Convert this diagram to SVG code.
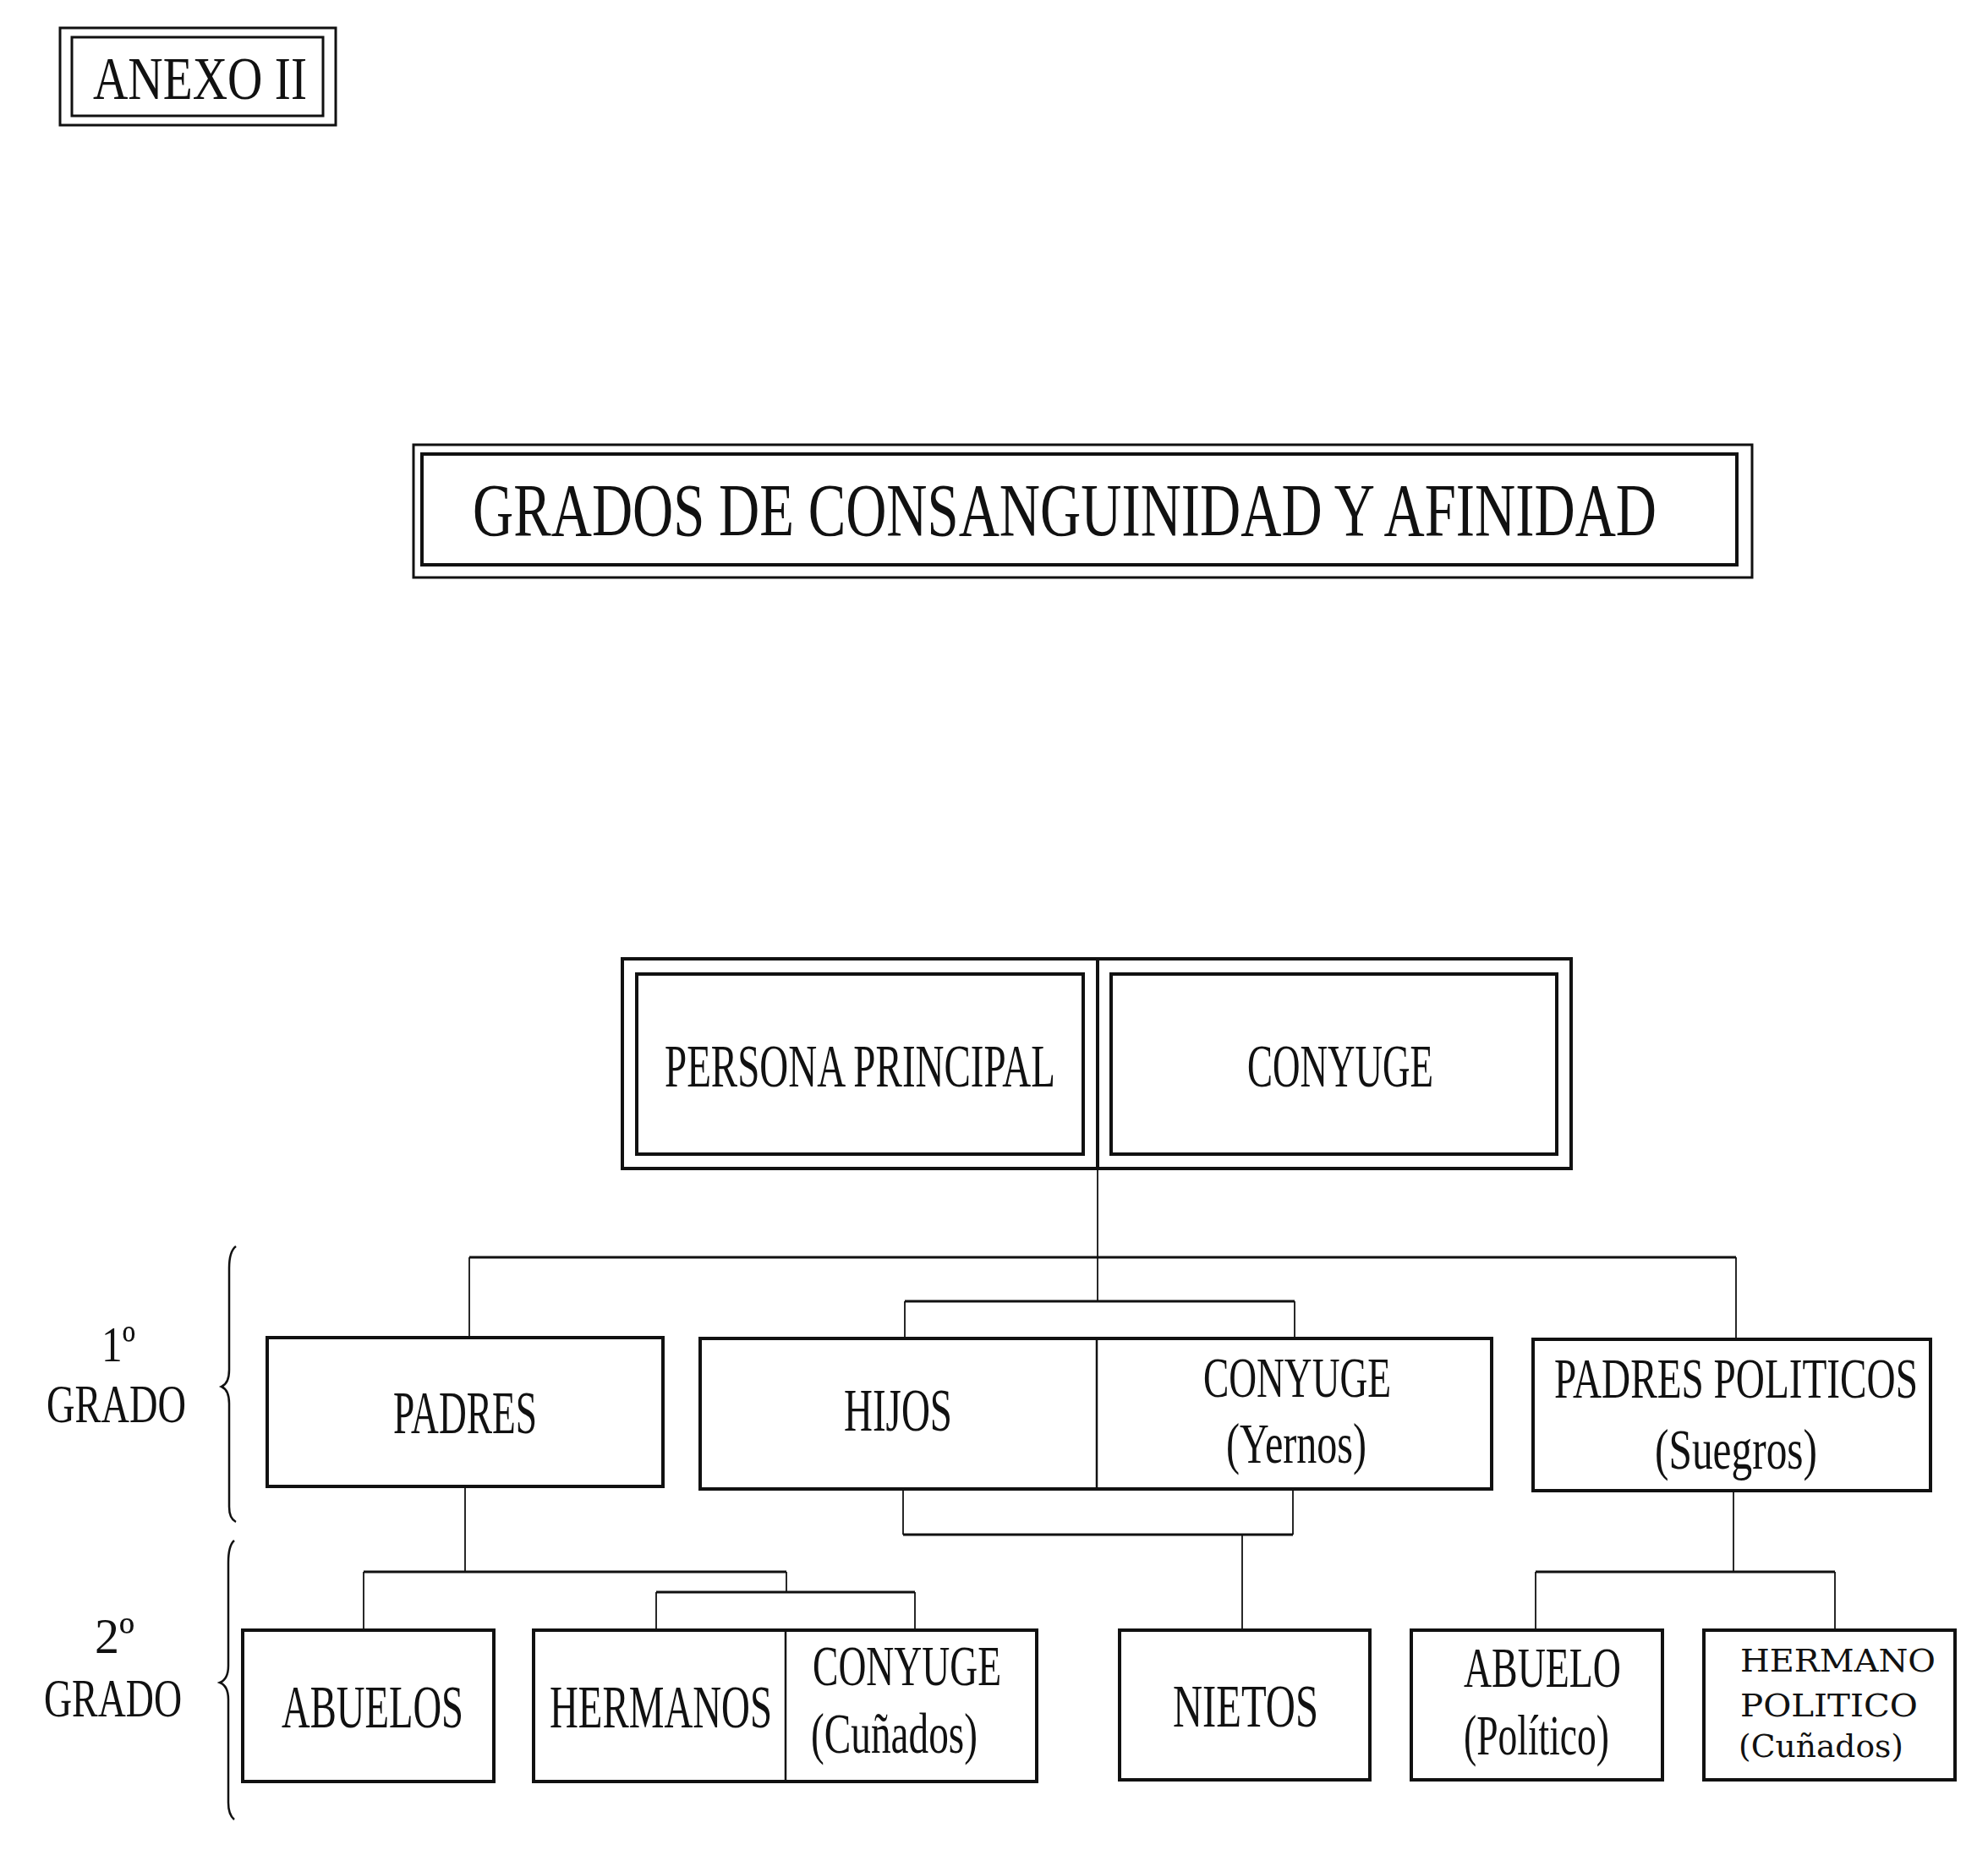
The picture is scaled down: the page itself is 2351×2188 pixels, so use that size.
<svg xmlns="http://www.w3.org/2000/svg" width="2351" height="2188" viewBox="0 0 2351 2188">
<style>
.bx{fill:none;stroke:#111;stroke-width:4}
.bx2{fill:none;stroke:#111;stroke-width:3}
.dv{stroke:#111;stroke-width:2.5}
.cv{stroke:#111;stroke-width:1.8;fill:none}
.ch{stroke:#111;stroke-width:3;fill:none}
.br{stroke:#111;stroke-width:2.5;fill:none}
text{font-family:"Liberation Serif","Times New Roman",serif;fill:#111}
.t72{font-size:72px}
.t68{font-size:67px}
.t88{font-size:88px}
.t37{font-size:38px;font-family:"DejaVu Serif","Liberation Serif",serif}
</style>
<rect width="2351" height="2188" fill="#fff"/>

<g id="anexo">
<rect x="71" y="33" width="326" height="115" class="bx2"/>
<rect x="85" y="44" width="297" height="93" class="bx2"/>
<text transform="translate(110,117) scale(0.796,1)" class="t72" textLength="317.8" lengthAdjust="spacingAndGlyphs">ANEXO II</text>
</g>

<g id="titulo">
<rect x="489" y="526" width="1583" height="157" class="bx2"/>
<rect x="499" y="537" width="1555" height="131" class="bx"/>
<text transform="translate(559,633) scale(0.754,1)" class="t88" textLength="1856.8" lengthAdjust="spacingAndGlyphs">GRADOS DE CONSANGUINIDAD Y AFINIDAD</text>
</g>

<g id="pareja">
<rect x="736" y="1134" width="1122" height="248" class="bx"/>
<line x1="1298" y1="1134" x2="1298" y2="1382" class="bx"/>
</g>
<g id="persona-principal">
<rect x="753" y="1152" width="528" height="213" class="bx"/>
<text transform="translate(786,1285) scale(0.643,1)" class="t72" textLength="718.5" lengthAdjust="spacingAndGlyphs">PERSONA PRINCIPAL</text>
</g>
<g id="conyuge">
<rect x="1314" y="1152" width="527" height="213" class="bx"/>
<text transform="translate(1475,1285) scale(0.625,1)" class="t72" textLength="352" lengthAdjust="spacingAndGlyphs">CONYUGE</text>
</g>

<g id="grado1">
<path d="M279 1474 Q271 1480 271 1500 L271 1620 Q271 1636 262 1640 Q271 1644 271 1660 L271 1782 Q271 1796 279 1800" class="br"/>
<text transform="translate(120,1610) scale(0.82,1)" style="font-size:60px" textLength="48.8" lengthAdjust="spacingAndGlyphs">1º</text>
<text transform="translate(55,1682) scale(0.725,1)" style="font-size:64px" textLength="227.6" lengthAdjust="spacingAndGlyphs">GRADO</text>
</g>
<g id="grado2">
<path d="M277 1822 Q270 1828 270 1848 L270 1970 Q270 1986 260 1990 Q270 1994 270 2010 L270 2132 Q270 2146 277 2152" class="br"/>
<text transform="translate(112,1955) scale(0.97,1)" style="font-size:60px" textLength="48.5" lengthAdjust="spacingAndGlyphs">2º</text>
<text transform="translate(52,2030) scale(0.716,1)" style="font-size:64px" textLength="227.7" lengthAdjust="spacingAndGlyphs">GRADO</text>
</g>

<g id="padres">
<rect x="316" y="1582" width="468" height="176" class="bx"/>
<text transform="translate(465,1695) scale(0.616,1)" class="t72" textLength="276" lengthAdjust="spacingAndGlyphs">PADRES</text>
</g>
<g id="hijos-conyuge">
<rect x="828" y="1583" width="936" height="178" class="bx"/>
<line x1="1297" y1="1583" x2="1297" y2="1761" class="dv"/>
<text transform="translate(998,1692) scale(0.653,1)" class="t72" textLength="196" lengthAdjust="spacingAndGlyphs">HIJOS</text>
<text transform="translate(1423,1652) scale(0.678,1)" class="t68" textLength="327.4" lengthAdjust="spacingAndGlyphs">CONYUGE</text>
<text transform="translate(1450,1730) scale(0.697,1)" class="t68" textLength="238.2" lengthAdjust="spacingAndGlyphs">(Yernos)</text>
</g>
<g id="padres-politicos">
<rect x="1813" y="1584" width="470" height="179" class="bx"/>
<text transform="translate(1838,1653) scale(0.698,1)" class="t68" textLength="616" lengthAdjust="spacingAndGlyphs">PADRES POLITICOS</text>
<text transform="translate(1957,1737) scale(0.737,1)" class="t68" textLength="260.5" lengthAdjust="spacingAndGlyphs">(Suegros)</text>
</g>

<g id="abuelos">
<rect x="287" y="1928" width="297" height="179" class="bx"/>
<text transform="translate(333,2043) scale(0.648,1)" class="t72" textLength="331.8" lengthAdjust="spacingAndGlyphs">ABUELOS</text>
</g>
<g id="hermanos-conyuge">
<rect x="631" y="1928" width="595" height="179" class="bx"/>
<line x1="929" y1="1928" x2="929" y2="2107" class="dv"/>
<text transform="translate(650,2043) scale(0.651,1)" class="t72" textLength="404" lengthAdjust="spacingAndGlyphs">HERMANOS</text>
<text transform="translate(961,1993) scale(0.681,1)" class="t68" textLength="327.5" lengthAdjust="spacingAndGlyphs">CONYUGE</text>
<text transform="translate(959,2073) scale(0.706,1)" class="t68" textLength="279" lengthAdjust="spacingAndGlyphs">(Cuñados)</text>
</g>
<g id="nietos">
<rect x="1324" y="1928" width="296" height="177" class="bx"/>
<text transform="translate(1387,2042) scale(0.672,1)" class="t72" textLength="256" lengthAdjust="spacingAndGlyphs">NIETOS</text>
</g>
<g id="abuelo-politico">
<rect x="1669" y="1928" width="297" height="177" class="bx"/>
<text transform="translate(1731,1995) scale(0.685,1)" class="t68" textLength="271.5" lengthAdjust="spacingAndGlyphs">ABUELO</text>
<text transform="translate(1731,2075) scale(0.68,1)" class="t68" textLength="252.9" lengthAdjust="spacingAndGlyphs">(Político)</text>
</g>
<g id="hermano-politico">
<rect x="2015" y="1928" width="297" height="177" class="bx"/>
<text x="2058" y="1977" class="t37" textLength="231" lengthAdjust="spacingAndGlyphs">HERMANO</text>
<text x="2058" y="2030" class="t37" textLength="210" lengthAdjust="spacingAndGlyphs">POLITICO</text>
<text x="2056" y="2078" class="t37" textLength="195" lengthAdjust="spacingAndGlyphs">(Cuñados)</text>
</g>

<g id="connectors">
<line x1="1298" y1="1382" x2="1298" y2="1539" class="cv"/>
<line x1="555" y1="1487" x2="2053" y2="1487" class="ch"/>
<line x1="555" y1="1487" x2="555" y2="1582" class="cv"/>
<line x1="2053" y1="1487" x2="2053" y2="1584" class="cv"/>
<line x1="1070" y1="1539" x2="1531" y2="1539" class="ch"/>
<line x1="1070" y1="1539" x2="1070" y2="1583" class="cv"/>
<line x1="1531" y1="1539" x2="1531" y2="1583" class="cv"/>
<line x1="1068" y1="1761" x2="1068" y2="1815" class="cv"/>
<line x1="1529" y1="1761" x2="1529" y2="1815" class="cv"/>
<line x1="1068" y1="1815" x2="1529" y2="1815" class="ch"/>
<line x1="1469" y1="1815" x2="1469" y2="1928" class="cv"/>
<line x1="550" y1="1758" x2="550" y2="1859" class="cv"/>
<line x1="430" y1="1859" x2="930" y2="1859" class="ch"/>
<line x1="430" y1="1859" x2="430" y2="1928" class="cv"/>
<line x1="930" y1="1859" x2="930" y2="1883" class="cv"/>
<line x1="776" y1="1883" x2="1082" y2="1883" class="ch"/>
<line x1="776" y1="1883" x2="776" y2="1928" class="cv"/>
<line x1="1082" y1="1883" x2="1082" y2="1928" class="cv"/>
<line x1="2050" y1="1763" x2="2050" y2="1859" class="cv"/>
<line x1="1816" y1="1859" x2="2170" y2="1859" class="ch"/>
<line x1="1816" y1="1859" x2="1816" y2="1928" class="cv"/>
<line x1="2170" y1="1859" x2="2170" y2="1928" class="cv"/>
</g>
</svg>
